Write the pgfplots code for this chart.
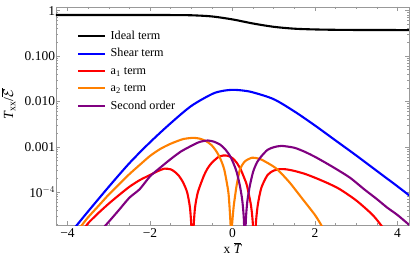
\documentclass[border=0pt]{standalone}
\usepackage{fontspec}
\setmainfont{Liberation Serif}
\usepackage{pgfplots}
\pgfplotsset{compat=1.18}
\definecolor{mOrange}{rgb}{1,0.5,0}
\definecolor{mPurple}{rgb}{0.5,0,0.5}
\definecolor{frameg}{gray}{0.6}
\begin{document}
\begin{tikzpicture}
\useasboundingbox (-56bp,-40bp) rectangle (355bp,225bp);
\begin{axis}[
  scale only axis, width=353bp, height=218.3bp,
  xmin=-4.28, xmax=4.28, ymin=1.9e-5, ymax=1.22,
  ymode=log,
  axis line style={frameg},
  tick style={frameg, line width=0.5bp},
  tick align=inside,
  major tick length=4bp, minor tick length=2.2bp,
  xtick={-4,-2,0,2,4}, minor x tick num=3,
  xticklabels={−4,−2,0,2,4},
  ytick={1,0.1,0.01,0.001,0.0001},
  yticklabels={1,0.100,0.010,0.001,10$^{-4}$},
  minor ytick={2e-5,3e-5,4e-5,5e-5,6e-5,7e-5,8e-5,9e-5,2e-4,3e-4,4e-4,5e-4,6e-4,7e-4,8e-4,9e-4,2e-3,3e-3,4e-3,5e-3,6e-3,7e-3,8e-3,9e-3,0.02,0.03,0.04,0.05,0.06,0.07,0.08,0.09,0.2,0.3,0.4,0.5,0.6,0.7,0.8,0.9},
  ticklabel style={font=\fontsize{13.5}{14}\selectfont, black},
  yticklabel style={xshift=2.5bp},
  xlabel={x $\overline{\textit{T}}$},
  ylabel={\textit{T}\textsubscript{xx}/$\overline{\mathcal{E}}$},
  every axis x label/.style={at={(axis description cs:0.5,-0.105)}, anchor=center, font=\fontsize{13.5}{14}\selectfont},
  every axis y label/.style={at={(axis description cs:-0.135,0.554)}, anchor=center, rotate=90, font=\fontsize{14}{15}\selectfont},
  legend style={at={(0.051,0.901)}, anchor=north west, draw=none, fill=none,
    font=\fontsize{12.2}{13}\selectfont, row sep=5.9bp, column sep=0bp,
    nodes={inner sep=0bp, text height=9bp, text depth=2.5bp},
    /tikz/every odd column/.append style={column sep=4.5bp}},
  legend cell align=left,
  legend image code/.code={\draw[#1] (0bp,0bp) -- (27bp,0bp);},
]
\addlegendimage{black, line width=2bp}
\addlegendentry{Ideal term}
\addlegendimage{blue, line width=2bp}
\addlegendentry{Shear term}
\addlegendimage{red, line width=2bp}
\addlegendentry{a\textsubscript{1} term}
\addlegendimage{mOrange, line width=2bp}
\addlegendentry{a\textsubscript{2} term}
\addlegendimage{mPurple, line width=2bp}
\addlegendentry{Second order}
\addplot[black, line width=2.1bp, smooth, forget plot] coordinates {
(-4.3,0.80) (-3,0.80) (-2,0.80) (-1.5,0.799) (-1,0.79) (-0.5,0.745) (0,0.64) (0.5,0.52) (1,0.44) (1.5,0.40) (2,0.385) (2.5,0.378) (3,0.375) (3.5,0.374) (4.3,0.373)};
\addplot[blue, line width=2.1bp, smooth, forget plot] coordinates {
(-3.9,1.41e-5) (-3.77,1.91e-5) (-3.5,3.80e-5) (-3,1.32e-4) (-2.5,4.37e-4) (-2,1.26e-3) (-1.5,3.31e-3) (-1,7.94e-3) (-0.5,1.45e-2) (-0.25,1.70e-2) (0,1.80e-2) (0.25,1.74e-2) (0.5,1.58e-2) (1,1.12e-2) (1.5,6.03e-3) (2,2.95e-3) (2.5,1.38e-3) (3,6.46e-4) (3.5,2.95e-4) (4,1.35e-4) (4.3,8.32e-5)};
\addplot[red, line width=2.1bp, smooth, tension=0.4, forget plot] coordinates {
(-3.7,1.26e-5) (-3.6,1.58e-5) (-3.5,2.09e-5) (-3.25,3.5e-5) (-3,5.62e-5) (-2.75,8.7e-5) (-2.5,1.32e-4) (-2.25,1.85e-4) (-2,2.40e-4) (-1.8,2.95e-4) (-1.65,3.31e-4) (-1.5,3.2e-4) (-1.4,2.82e-4) (-1.3,2.3e-4) (-1.2,1.66e-4) (-1.1,1.0e-4) (-1.03,4.47e-5) (-0.99,1.26e-5) (-0.97,1e-6) (-0.95,1.26e-5) (-0.91,4.47e-5) (-0.84,1.0e-4) (-0.7,2.24e-4) (-0.6,3.4e-4) (-0.5,4.47e-4) (-0.35,5.9e-4) (-0.22,6.46e-4) (-0.1,6.3e-4) (0.0,5.62e-4) (0.1,4.5e-4) (0.2,3.16e-4) (0.3,1.9e-4) (0.35,1.41e-4) (0.45,5.01e-5) (0.5,1.58e-5) (0.53,1e-6) (0.56,1.58e-5) (0.61,5.01e-5) (0.7,1.26e-4) (0.85,2.40e-4) (1.0,3.0e-4) (1.15,3.24e-4) (1.3,3.2e-4) (1.5,2.95e-4) (1.75,2.55e-4) (2,2.09e-4) (2.3,1.6e-4) (2.6,1.17e-4) (3,6.61e-5) (3.4,3.16e-5) (3.65,1.66e-5) (3.8,1.12e-5)};
\addplot[mOrange, line width=2.1bp, smooth, tension=0.4, forget plot] coordinates {
(-3.8,1.26e-5) (-3.7,1.66e-5) (-3.5,2.82e-5) (-3.25,5.0e-5) (-3,8.91e-5) (-2.75,1.5e-4) (-2.5,2.51e-4) (-2.25,4.0e-4) (-2,6.31e-4) (-1.75,9.0e-4) (-1.5,1.17e-3) (-1.2,1.48e-3) (-0.95,1.58e-3) (-0.8,1.52e-3) (-0.7,1.41e-3) (-0.6,1.27e-3) (-0.5,1.07e-3) (-0.4,8.2e-4) (-0.3,5.62e-4) (-0.2,3.16e-4) (-0.1,1.0e-4) (-0.06,3.16e-5) (-0.04,1.26e-5) (-0.03,1e-6) (-0.02,1.26e-5) (0.0,2.51e-5) (0.03,5.0e-5) (0.06,7.94e-5) (0.1,1.41e-4) (0.18,3.16e-4) (0.3,4.79e-4) (0.47,5.75e-4) (0.6,5.6e-4) (0.7,5.25e-4) (0.9,4.17e-4) (1.05,3.4e-4) (1.2,2.51e-4) (1.4,1.58e-4) (1.7,7.08e-5) (2.0,3.16e-5) (2.15,1.91e-5) (2.3,1.12e-5)};
\addplot[mPurple, line width=2.1bp, smooth, tension=0.4, forget plot] coordinates {
(-3.2,1.41e-5) (-3.0,2.24e-5) (-2.75,4.1e-5) (-2.5,7.59e-5) (-2.25,1.17e-4) (-2.0,2.24e-4) (-1.75,3.5e-4) (-1.5,5.37e-4) (-1.25,7.9e-4) (-1.0,1.05e-3) (-0.8,1.28e-3) (-0.6,1.38e-3) (-0.45,1.3e-3) (-0.3,1.12e-3) (-0.18,8.9e-4) (-0.06,6.31e-4) (0.03,4.2e-4) (0.1,2.82e-4) (0.18,1.38e-4) (0.24,6.31e-5) (0.28,2.0e-5) (0.30,1e-6) (0.32,2.0e-5) (0.36,6.31e-5) (0.42,1.38e-4) (0.5,2.82e-4) (0.59,4.47e-4) (0.7,6.2e-4) (0.85,8.6e-4) (1.0,9.8e-4) (1.19,1.05e-3) (1.5,9.55e-4) (1.75,7.8e-4) (2.0,6.03e-4) (2.25,4.5e-4) (2.5,3.31e-4) (2.85,2.09e-4) (3.2,1.15e-4) (3.5,7.08e-5) (3.75,4.6e-5) (4.0,3.16e-5) (4.3,1.86e-5)};
\end{axis}
\end{tikzpicture}
\end{document}
